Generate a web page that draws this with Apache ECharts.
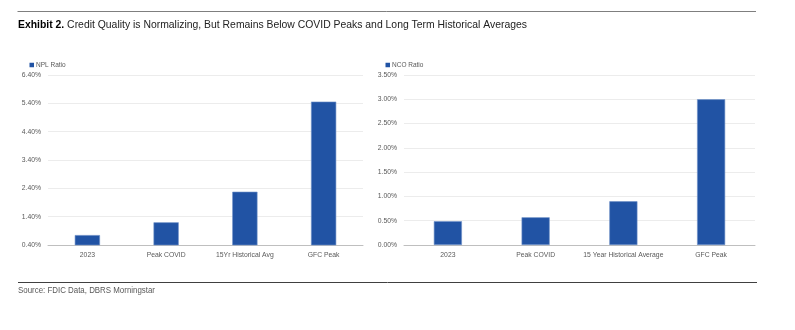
<!DOCTYPE html>
<html><head><meta charset="utf-8">
<script src="https://cdn.jsdelivr.net/npm/echarts@6/dist/echarts.min.js"></script>
<style>html,body{margin:0;padding:0;background:#fff;}#c{width:795px;height:330px;}</style>
</head><body><div id="c"></div>
<script>
const nplCategories = ['2023', 'Peak COVID', '15Yr Historical Avg', 'GFC Peak'];
const nplValues = [0.75, 1.20, 2.28, 5.46];
const ncoCategories = ['2023', 'Peak COVID', '15 Year Historical Average', 'GFC Peak'];
const ncoValues = [0.49, 0.57, 0.90, 3.00];
const titleBold = 'Exhibit 2.';
const titleRest = ' Credit Quality is Normalizing, But Remains Below COVID Peaks and Long Term Historical Averages';
const sourceText = 'Source: FDIC Data, DBRS Morningstar';

const FONT = '"Liberation Sans", Arial, sans-serif';
const BAR = '#2153a4';

// measure helper to emulate the condensed typeface of the original
const mctx = document.createElement('canvas').getContext('2d');
function tw(txt, size, weight) {
  mctx.font = (weight || 'normal') + ' ' + size + 'px "Liberation Sans", Arial, sans-serif';
  return mctx.measureText(txt).width;
}
const TS = 11;
const titleW = tw(titleBold, TS, 'bold') + tw(titleRest, TS, 'normal');
const titleScale = 509 / titleW;
const SS = 9.5;
const srcScale = 137 / tw(sourceText, SS, 'normal');

const chart = echarts.init(document.getElementById('c'), null, {renderer: 'canvas'});

function yAxis(idx, min, max, interval) {
  return {
    type: 'value', gridIndex: idx, min: min, max: max, interval: interval,
    axisLine: {show: false}, axisTick: {show: false},
    splitLine: {lineStyle: {color: '#ececec', width: 1}},
    axisLabel: {color: '#595959', fontFamily: FONT, fontSize: 6.8, margin: 7,
      formatter: v => v.toFixed(2) + '%'}
  };
}
function xAxis(idx, cats) {
  return {
    type: 'category', gridIndex: idx, data: cats,
    axisLine: {lineStyle: {color: '#bfbfbf', width: 1}}, axisTick: {show: false},
    axisLabel: {color: '#595959', fontFamily: FONT, fontSize: 6.8, margin: 7, interval: 0}
  };
}
function bars(idx, name, vals) {
  return {
    type: 'bar', name: name, xAxisIndex: idx, yAxisIndex: idx, data: vals,
    barWidth: '32%', itemStyle: {color: BAR, borderColor: '#6f90c8', borderWidth: 0.6},
    silent: true, animation: false
  };
}
function legend(name, left) {
  return {data: [name], left: left, top: 61.5, padding: 0, itemWidth: 4.5, itemHeight: 4.5, itemGap: 2,
    icon: 'rect', itemStyle: {borderWidth: 0, color: BAR},
    textStyle: {fontFamily: FONT, fontSize: 6.5, color: '#595959', padding: [0, 0, 0, -3]}};
}

chart.setOption({
  animation: false,
  legend: [legend('NPL Ratio', 29.5), legend('NCO Ratio', 385.5)],
  grid: [
    {left: 48, top: 75, width: 315, height: 170},
    {left: 404, top: 75, width: 351, height: 170}
  ],
  xAxis: [xAxis(0, nplCategories), xAxis(1, ncoCategories)],
  yAxis: [yAxis(0, 0.4, 6.4, 1), yAxis(1, 0, 3.5, 0.5)],
  series: [bars(0, 'NPL Ratio', nplValues), bars(1, 'NCO Ratio', ncoValues)],
  graphic: [
    {type: 'line', shape: {x1: 17.5, y1: 11.5, x2: 756, y2: 11.5}, style: {stroke: '#7f7f7f', lineWidth: 1}, silent: true},
    {type: 'text', x: 18, y: 24.5, scaleX: titleScale, silent: true,
     style: {text: '{b|' + titleBold + '}{r|' + titleRest + '}', verticalAlign: 'middle',
       rich: {
         b: {fontFamily: FONT, fontSize: TS, fontWeight: 'bold', fill: '#000'},
         r: {fontFamily: FONT, fontSize: TS, fontWeight: 'normal', fill: '#222'}
       }}},
    {type: 'line', shape: {x1: 18, y1: 282.5, x2: 757, y2: 282.5}, style: {stroke: '#404040', lineWidth: 1}, silent: true},
    {type: 'text', x: 18, y: 290.5, scaleX: srcScale, silent: true,
     style: {text: sourceText, fontFamily: FONT, fontSize: SS, fill: '#595959', verticalAlign: 'middle'}}
  ]
});
</script></body></html>
